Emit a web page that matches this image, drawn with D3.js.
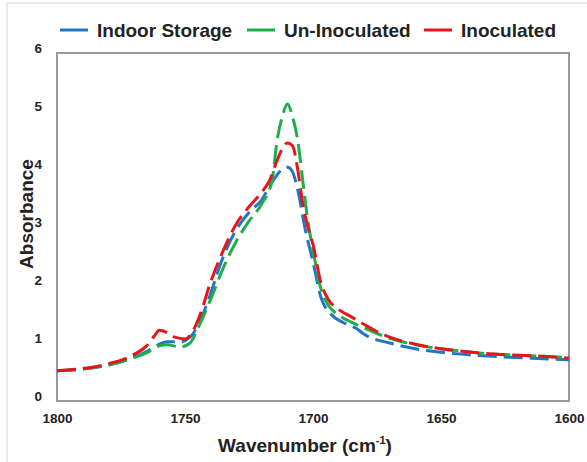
<!DOCTYPE html>
<html>
<head>
<meta charset="utf-8">
<script src="https://cdn.jsdelivr.net/npm/d3@7"></script>
<style>
  body { margin: 0; background: #fff; }
  svg { display: block; font-family: "Liberation Sans", Arial, sans-serif; }
</style>
</head>
<body>
<svg id="chart" width="587" height="462"></svg>
<script>
// wavenumbers (cm-1) and absorbance
const blueW = [1800, 1790, 1780, 1770, 1765, 1760, 1757, 1752, 1748, 1745, 1740, 1736, 1730, 1725, 1720, 1717, 1714, 1712, 1710, 1708, 1706, 1703, 1700, 1697, 1693, 1688, 1683, 1680, 1670, 1660, 1650, 1640, 1630, 1620, 1610, 1600];
const blueA = [0.52, 0.55, 0.62, 0.75, 0.85, 0.98, 1.02, 1.02, 1.1, 1.3, 1.85, 2.38, 2.95, 3.25, 3.47, 3.7, 3.9, 4.0, 4.03, 3.95, 3.65, 2.95, 2.4, 1.8, 1.5, 1.35, 1.25, 1.15, 1.0, 0.9, 0.84, 0.8, 0.77, 0.75, 0.73, 0.71];

const greenW = [1800, 1790, 1780, 1770, 1765, 1760, 1757, 1752, 1748, 1745, 1740, 1735, 1730, 1725, 1720, 1716, 1714, 1712, 1710, 1708, 1706, 1704, 1702, 1700, 1697, 1694, 1690, 1685, 1680, 1670, 1660, 1650, 1640, 1630, 1620, 1610, 1600];
const greenA = [0.52, 0.55, 0.62, 0.75, 0.83, 0.95, 0.97, 0.93, 1.0, 1.25, 1.75, 2.3, 2.75, 3.1, 3.4, 3.8, 4.5, 4.9, 5.12, 4.9, 4.5, 3.8, 3.1, 2.6, 1.95, 1.65, 1.48, 1.36, 1.26, 1.08, 0.97, 0.9, 0.85, 0.81, 0.79, 0.77, 0.75];

const redW = [1800, 1790, 1780, 1770, 1765, 1762, 1760, 1757, 1754, 1750, 1747, 1744, 1740, 1735, 1730, 1725, 1720, 1717, 1714, 1712, 1710, 1708, 1706, 1704, 1702, 1700, 1697, 1694, 1690, 1685, 1680, 1676, 1670, 1660, 1650, 1640, 1630, 1620, 1610, 1600];
const redA = [0.52, 0.56, 0.64, 0.8, 0.95, 1.12, 1.22, 1.18, 1.1, 1.07, 1.2, 1.5, 2.05, 2.6, 3.05, 3.35, 3.6, 3.8, 4.15, 4.35, 4.45, 4.4, 4.0, 3.4, 3.0, 2.7, 2.05, 1.75, 1.58, 1.45, 1.32, 1.22, 1.1, 0.98, 0.9, 0.85, 0.81, 0.79, 0.77, 0.74];

const seriesNames = ['Indoor Storage', 'Un-Inoculated', 'Inoculated'];
const seriesColors = ['#1f77c4', '#1fae4a', '#e8141b'];
const xTicks = [1800, 1750, 1700, 1650, 1600];
const yTicks = [0, 1, 2, 3, 4, 5, 6];

const series = [
  { name: seriesNames[0], color: seriesColors[0], w: blueW, a: blueA },
  { name: seriesNames[1], color: seriesColors[1], w: greenW, a: greenA },
  { name: seriesNames[2], color: seriesColors[2], w: redW, a: redA }
];

const svg = d3.select('#chart');
const plotL = 57, plotR = 569, plotT = 53, plotB = 401;

// faint outer border of the original figure
svg.append('path')
  .attr('d', 'M7,462V3H587')
  .attr('fill', 'none')
  .attr('stroke', '#e2e2e2')
  .attr('stroke-width', 1.5);

const x = d3.scaleLinear().domain([1800, 1600]).range([plotL, plotR]);
const y = d3.scaleLinear().domain([0, 6]).range([plotB, plotT]);

// axes (labels only, frame drawn separately)
const xAxis = svg.append('g')
  .attr('transform', `translate(0, ${plotB + 9})`)
  .call(d3.axisBottom(x).tickValues(xTicks).tickSize(0).tickFormat(d3.format('d')));
xAxis.select('.domain').remove();
xAxis.selectAll('text')
  .attr('font-size', 13.5)
  .attr('font-weight', 'bold')
  .attr('fill', '#222')
  .attr('font-family', '"Liberation Sans", Arial, sans-serif');

const yAxis = svg.append('g')
  .attr('transform', `translate(${plotL - 12}, 0)`)
  .call(d3.axisLeft(y).tickValues(yTicks).tickSize(0).tickFormat(d3.format('d')));
yAxis.select('.domain').remove();
yAxis.selectAll('text')
  .attr('font-size', 13.5)
  .attr('font-weight', 'bold')
  .attr('fill', '#222')
  .attr('dy', '-0.05em')
  .attr('font-family', '"Liberation Sans", Arial, sans-serif');

// plot frame
svg.append('rect')
  .attr('x', plotL)
  .attr('y', plotT)
  .attr('width', plotR - plotL)
  .attr('height', plotB - plotT)
  .attr('fill', 'none')
  .attr('stroke', '#999')
  .attr('stroke-width', 2);

const line = d3.line()
  .x(d => x(d[0]))
  .y(d => y(d[1]))
  .curve(d3.curveMonotoneX);

svg.append('g')
  .selectAll('path')
  .data(series)
  .join('path')
  .attr('d', s => line(s.w.map((w, i) => [w, s.a[i]])))
  .attr('fill', 'none')
  .attr('stroke', s => s.color)
  .attr('stroke-width', 3)
  .attr('stroke-dasharray', '19,7')
  .attr('stroke-linecap', 'butt');

// legend
const legendX = [60, 247, 424];
const legend = svg.append('g')
  .selectAll('g')
  .data(series)
  .join('g')
  .attr('transform', (s, i) => `translate(${legendX[i]}, 30)`);
legend.append('line')
  .attr('x1', 0).attr('x2', 28)
  .attr('stroke', s => s.color)
  .attr('stroke-width', 3);
legend.append('text')
  .attr('x', 37)
  .attr('dy', '0.35em')
  .attr('font-size', 19)
  .attr('font-weight', 'bold')
  .attr('fill', '#222')
  .text(s => s.name);

// axis titles
const xTitle = svg.append('text')
  .attr('x', (plotL + plotR) / 2 - 8)
  .attr('y', 452)
  .attr('text-anchor', 'middle')
  .attr('font-size', 19)
  .attr('font-weight', 'bold')
  .attr('fill', '#222');
xTitle.append('tspan').text('Wavenumber (cm');
xTitle.append('tspan').attr('font-size', 11).attr('dy', -8).text('-1');
xTitle.append('tspan').attr('dy', 8).text(')');

svg.append('text')
  .attr('transform', 'translate(33, 214) rotate(-90)')
  .attr('text-anchor', 'middle')
  .attr('font-size', 19)
  .attr('font-weight', 'bold')
  .attr('fill', '#222')
  .text('Absorbance');
</script>
</body>
</html>
